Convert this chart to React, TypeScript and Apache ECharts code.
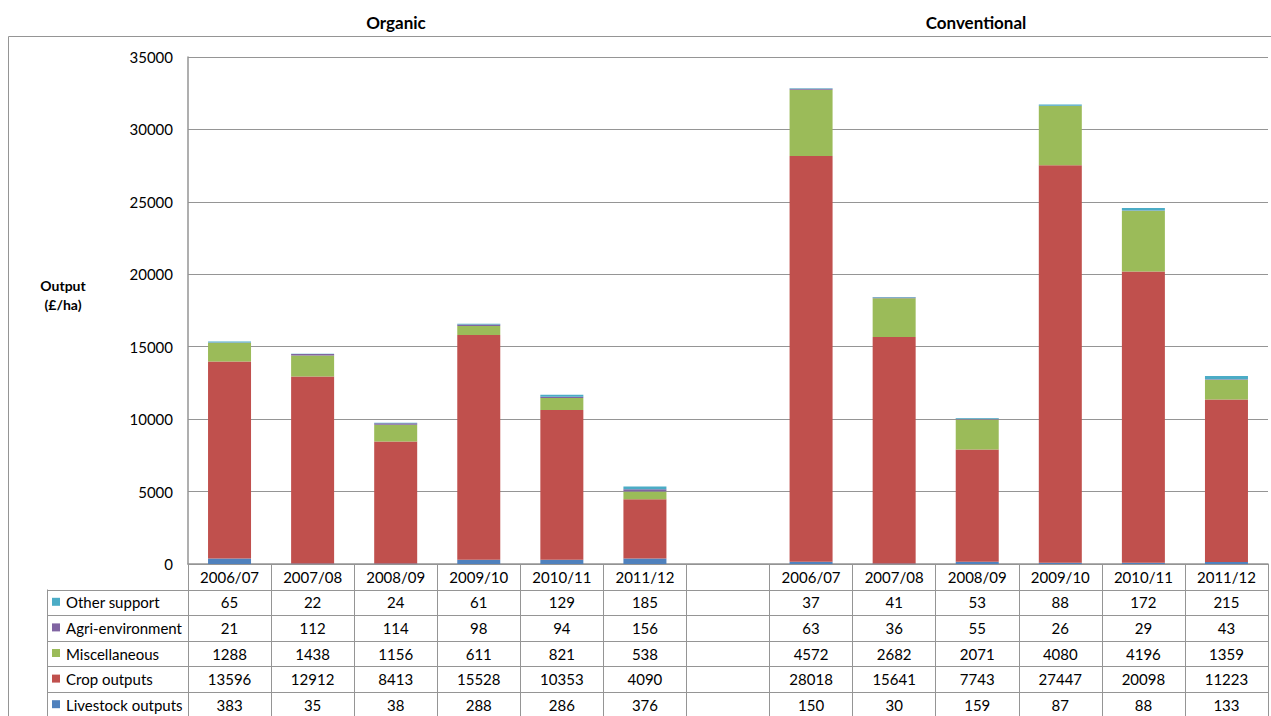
import React, { useEffect, useRef } from "react";
import * as echarts from "echarts";

const categories = ["2006/07", "2007/08", "2008/09", "2009/10", "2010/11", "2011/12"];
const groupTitles = ["Organic", "Conventional"];
const yAxisTitle = "Output\n(£/ha)";

// values per series: organic then conventional
const livestockOrganic = [383, 35, 38, 288, 286, 376];
const livestockConventional = [150, 30, 159, 87, 88, 133];
const cropOrganic = [13596, 12912, 8413, 15528, 10353, 4090];
const cropConventional = [28018, 15641, 7743, 27447, 20098, 11223];
const miscOrganic = [1288, 1438, 1156, 611, 821, 538];
const miscConventional = [4572, 2682, 2071, 4080, 4196, 1359];
const agriOrganic = [21, 112, 114, 98, 94, 156];
const agriConventional = [63, 36, 55, 26, 29, 43];
const otherOrganic = [65, 22, 24, 61, 129, 185];
const otherConventional = [37, 41, 53, 88, 172, 215];

const seriesDefs = [
  { name: "Livestock outputs", organic: livestockOrganic, conventional: livestockConventional, color: "#4F81BD" },
  { name: "Crop outputs", organic: cropOrganic, conventional: cropConventional, color: "#C0504D" },
  { name: "Miscellaneous", organic: miscOrganic, conventional: miscConventional, color: "#9BBB59" },
  { name: "Agri-environment", organic: agriOrganic, conventional: agriConventional, color: "#8064A2" },
  { name: "Other support", organic: otherOrganic, conventional: otherConventional, color: "#4BACC6" },
];

const slots = [...categories, "", ...categories];
const FONT = "Lato, 'Open Sans', sans-serif";
const LINE = "#959595";

export default function App() {
  const ref = useRef<HTMLDivElement>(null);
  useEffect(() => {
    if (!ref.current) return;
    const chart = echarts.init(ref.current, null, { renderer: "svg" });
    const gridLeft = 188, gridTop = 57, gridBottomY = 564, gridRight = 1268;
    const series = seriesDefs.map((s) => ({
      name: s.name,
      type: "bar",
      stack: "total",
      barWidth: 43,
      itemStyle: { color: s.color },
      data: [...s.organic, null, ...s.conventional],
    }));
    chart.setOption({
      animation: false,
      textStyle: { fontFamily: FONT },
      grid: { left: gridLeft, top: gridTop, right: 1271 - gridRight, bottom: 716 - gridBottomY, containLabel: false },
      xAxis: {
        type: "category",
        data: slots,
        boundaryGap: true,
        axisLine: { show: true, lineStyle: { color: LINE, width: 1.5 } },
        axisTick: { show: true, interval: 0, length: 716 - gridBottomY, lineStyle: { color: LINE, width: 1 } },
        axisLabel: { interval: 0, margin: 5, color: "#000", fontSize: 15, fontFamily: FONT },
      },
      yAxis: {
        type: "value",
        min: 0,
        max: 35000,
        interval: 5000,
        axisLine: { show: true, lineStyle: { color: LINE, width: 1.5 } },
        axisTick: { show: false },
        axisLabel: { margin: 15, color: "#000", fontSize: 15, fontFamily: FONT, formatter: (v: number) => String(v) },
        splitLine: { show: true, lineStyle: { color: LINE, width: 1 } },
      },
      series,
    });

    const centers = slots.map((_, i) => chart.convertToPixel({ xAxisIndex: 0 }, i) as number);
    const rowTop = 589.5;
    const rowH = 25.6;
    const tableRows = [...seriesDefs].reverse();
    const graphic: any[] = [];
    graphic.push({
      type: "rect",
      shape: { x: 8.5, y: 36.5, width: 1275, height: 700 },
      style: { fill: "none", stroke: LINE, lineWidth: 1 },
      silent: true,
    });
    const titleXs = [396, 976];
    groupTitles.forEach((t, i) => {
      graphic.push({
        type: "text",
        x: titleXs[i],
        y: 22,
        style: { text: t, font: `bold 17px ${FONT}`, fill: "#000", align: "center", verticalAlign: "middle" },
      });
    });
    graphic.push({
      type: "text",
      x: 63,
      y: 295,
      style: { text: yAxisTitle, font: `bold 14px ${FONT}`, fill: "#000", align: "center", verticalAlign: "middle", lineHeight: 19 },
    });
    // table lines
    for (let k = 0; k <= tableRows.length; k++) {
      const y = Math.round(rowTop + k * rowH) + 0.5;
      graphic.push({
        type: "line",
        shape: { x1: 47, y1: y, x2: gridRight, y2: y },
        style: { stroke: LINE, lineWidth: 1 },
        silent: true,
      });
    }
    graphic.push({
      type: "line",
      shape: { x1: 47.5, y1: rowTop, x2: 47.5, y2: 716 },
      style: { stroke: LINE, lineWidth: 1 },
      silent: true,
    });
    tableRows.forEach((s, k) => {
      const cy = rowTop + (k + 0.5) * rowH;
      graphic.push({
        type: "rect",
        shape: { x: 52, y: cy - 4.5, width: 8, height: 8 },
        style: { fill: s.color },
        silent: true,
      });
      graphic.push({
        type: "text",
        x: 66,
        y: cy,
        style: { text: s.name, font: `15px ${FONT}`, fill: "#000", align: "left", verticalAlign: "middle" },
      });
      const vals = [...s.organic, null, ...s.conventional];
      vals.forEach((v, i) => {
        if (v === null) return;
        graphic.push({
          type: "text",
          x: centers[i],
          y: cy,
          style: { text: String(v), font: `15px ${FONT}`, fill: "#000", align: "center", verticalAlign: "middle" },
        });
      });
    });
    chart.setOption({ graphic });
    return () => chart.dispose();
  }, []);
  return <div ref={ref} style={{ position: "fixed", left: 0, top: 0, width: 1271, height: 716, background: "#fff" }} />;
}
